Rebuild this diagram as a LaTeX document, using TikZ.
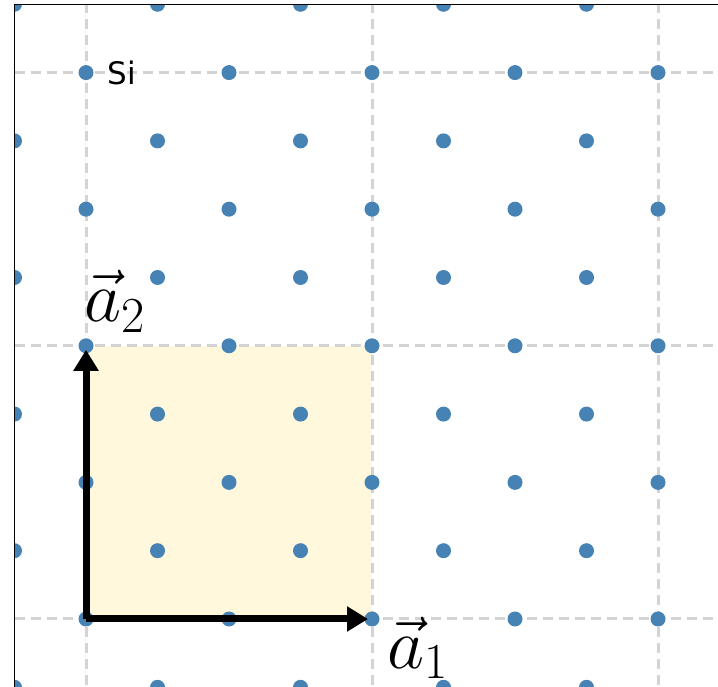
\documentclass[tikz,border=0pt]{standalone}
\usepackage{fix-cm}
\usepackage{fontspec}
\newfontfamily\labelfont{DejaVu Sans}
\usetikzlibrary{arrows.meta}
\definecolor{atom}{HTML}{4682B4}
\definecolor{cell}{HTML}{FFF8DC}
\definecolor{gridline}{HTML}{D3D3D3}
\tikzset{
  site/.style={fill=atom,draw=none},
  guide/.style={draw=gridline,line width=3pt,dash pattern=on 10pt off 6pt},
  frame/.style={draw=black,line width=1.5pt},
  lattice/.style={-{Triangle[length=21pt,width=24pt]},line width=7pt,draw=black,shorten >=4pt},
  veclabel/.style={font=\fontsize{72}{76}\selectfont,inner sep=0pt,anchor=base west},
  sitelabel/.style={font=\labelfont\fontsize{31}{34}\selectfont,inner sep=0pt,anchor=base west}
}
\begin{document}
\begin{tikzpicture}[x=71.5pt,y=68.3pt]
\useasboundingbox (-1.203,-0.981) rectangle (8.839,9.063);
% unit cell
\fill[cell] (0,0) rectangle (4,4);
\begin{scope}
\clip (-1,-1.2) rectangle (9.2,9);
% guide lines
\foreach \g in {0,4,8} {
  \draw[guide] (\g,-1.2) -- (\g,9);
  \draw[guide] (-1,\g) -- (9.2,\g);
}
% atoms
\foreach \r in {-1,...,9} {
  \foreach \c in {-1,...,9} {
    \pgfmathtruncatemacro{\parity}{mod(\c+\r+2,2)}
    \ifnum\parity=0 \fill[site] (\c,\r) circle[radius=7.5pt]; \fi
  }
}
\end{scope}
\draw[frame] (-1,-1.2) -- (-1,9) -- (9.2,9);
% lattice vectors
\coordinate (o) at (0,0);
\coordinate (e1) at (4,0);
\coordinate (e2) at (0,4);
\draw[lattice] (o) -- (e1);
\draw[lattice] (o) -- (e2);
\node[veclabel] (a1) at (4.22,-0.72) {$\vec{a}_1$};
\node[veclabel] (a2) at (-0.02,4.35) {$\vec{a}_2$};
\node[sitelabel] (si) at (0.30,7.82) {Si};
\end{tikzpicture}
\end{document}
